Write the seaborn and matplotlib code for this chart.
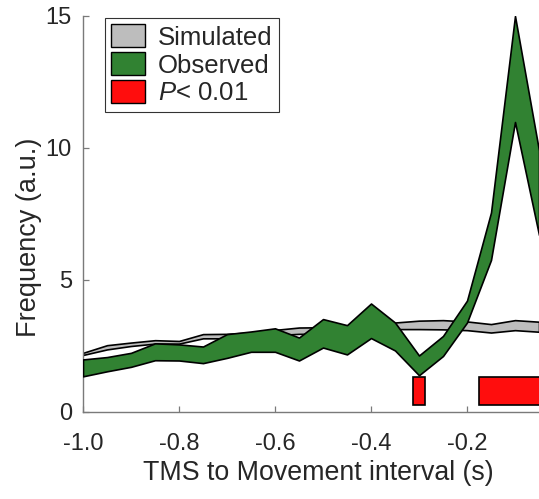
import numpy as np
import pandas as pd
import matplotlib
matplotlib.use("Agg")
import matplotlib.pyplot as plt
import seaborn as sns
from matplotlib.patches import Patch
from matplotlib.ticker import FormatStrFormatter

# bin centres (s)
interval = [-1.0, -0.95, -0.9, -0.85, -0.8, -0.75, -0.7, -0.65, -0.6, -0.55,
            -0.5, -0.45, -0.4, -0.35, -0.3, -0.25, -0.2, -0.15, -0.1, -0.05]

sim_upper = [2.23, 2.52, 2.62, 2.71, 2.68, 2.94, 2.95, 3.00, 3.10, 3.19,
             3.20, 3.25, 3.30, 3.38, 3.45, 3.47, 3.42, 3.32, 3.47, 3.41]
sim_lower = [2.15, 2.36, 2.49, 2.58, 2.58, 2.78, 2.78, 2.85, 2.90, 2.95,
             2.95, 3.00, 3.05, 3.13, 3.13, 3.12, 3.09, 3.00, 3.09, 3.03]

obs_upper = [1.98, 2.07, 2.23, 2.59, 2.55, 2.47, 2.94, 3.04, 3.16, 2.81,
             3.51, 3.28, 4.10, 3.38, 2.13, 2.87, 4.21, 7.55, 15.0, 9.90]
obs_lower = [1.34, 1.53, 1.70, 1.95, 1.94, 1.84, 2.04, 2.27, 2.27, 1.94,
             2.43, 2.17, 2.79, 2.32, 1.38, 2.11, 3.38, 5.75, 10.98, 6.70]

# significant windows (P < 0.01)
sig_start = [-0.3125, -0.175]
sig_end = [-0.2875, 0.0]

df = pd.DataFrame({"interval": interval,
                   "sim_upper": sim_upper, "sim_lower": sim_lower,
                   "obs_upper": obs_upper, "obs_lower": obs_lower})

sns.set_theme(style="ticks")
plt.rcParams["font.family"] = ["Liberation Sans", "DejaVu Sans"]
plt.rcParams["axes.unicode_minus"] = False
plt.rcParams["mathtext.fontset"] = "custom"
plt.rcParams["mathtext.rm"] = "Liberation Sans"
plt.rcParams["mathtext.it"] = "Liberation Sans:italic"

text_col = "#262626"
gray = "#bdbdbd"
green = "#318232"
red = "#ff0d0d"

fig = plt.figure(figsize=(5.39, 4.99), dpi=100)
ax = fig.add_axes([0.154, 0.175, 0.846, 0.793])

ax.fill_between(df["interval"], df["sim_lower"], df["sim_upper"],
                facecolor=gray, edgecolor="black", linewidth=1.2, zorder=2)
ax.fill_between(df["interval"], df["obs_lower"], df["obs_upper"],
                facecolor=green, edgecolor="black", linewidth=1.2, zorder=3)

sig = pd.DataFrame({"start": sig_start, "end": sig_end})
ax.bar(sig["start"], 1.05, width=sig["end"] - sig["start"], bottom=0.25,
       align="edge", color=red, edgecolor="black", linewidth=1.2, zorder=4)

ax.set_xlim(-1.0, -0.05)
ax.set_ylim(0, 15)
ax.set_xticks([-1.0, -0.8, -0.6, -0.4, -0.2])
ax.set_yticks([0, 5, 10, 15])
ax.xaxis.set_major_formatter(FormatStrFormatter("%.1f"))

for s in ["top", "right"]:
    ax.spines[s].set_visible(False)
for s in ["left", "bottom"]:
    ax.spines[s].set_color("#7a7a7a")
    ax.spines[s].set_linewidth(1.0)

ax.tick_params(direction="in", length=4, width=0.9, color="#7a7a7a",
               labelsize=17, labelcolor=text_col)
ax.tick_params(axis="x", pad=15)
ax.tick_params(axis="y", pad=8)

ax.set_xlabel("TMS to Movement interval (s)", fontsize=19.3, color=text_col,
              va="center")
ax.set_ylabel("Frequency (a.u.)", fontsize=19.5, color=text_col, va="center")
ax.xaxis.set_label_coords(0.515, -0.155)
ax.yaxis.set_label_coords(-0.1195, 0.44)

handles = [Patch(facecolor=gray, edgecolor="black", linewidth=1.0),
           Patch(facecolor=green, edgecolor="black", linewidth=1.0),
           Patch(facecolor=red, edgecolor="black", linewidth=1.0)]
labels = ["Simulated", "Observed", "$P$< 0.01"]
leg = ax.legend(handles, labels, loc="upper left",
                bbox_to_anchor=(0.048, 0.995), fontsize=18.5, frameon=True,
                fancybox=False, handlelength=1.3, handleheight=1.0,
                handletextpad=0.5, labelspacing=0.1, borderpad=0.25,
                borderaxespad=0)
leg.get_frame().set_edgecolor("black")
leg.get_frame().set_linewidth(0.8)
for t in leg.get_texts():
    t.set_color(text_col)

fig.savefig("out.png", dpi=100)
